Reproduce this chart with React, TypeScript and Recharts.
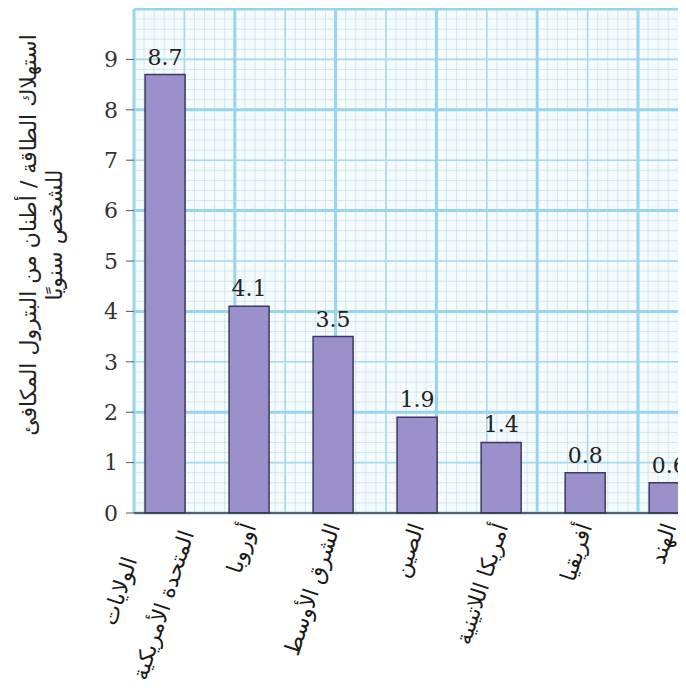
import React from "react";
import { BarChart, Bar, XAxis, YAxis, CartesianGrid, LabelList } from "recharts";

// regions, as printed under the bars (line breaks as in the original)
const regionLines: string[][] = [
  ["الولايات", "المتحدة الأمريكية"],
  ["أوروبا"],
  ["الشرق الأوسط"],
  ["الصين"],
  ["أمريكا اللاتينية"],
  ["أفريقيا"],
  ["الهند"],
];
const consumption = [8.7, 4.1, 3.5, 1.9, 1.4, 0.8, 0.6];
const yTicks = [0, 1, 2, 3, 4, 5, 6, 7, 8, 9];
const yTitle = ["استهلاك الطاقة / أطنان من البترول المكافئ", "للشخص سنويًا"];

const data = consumption.map((value, idx) => ({ idx, value }));

// graph paper: a cell is 0.2 units, bold lines every unit, heavier every 2
const minorY = Array.from({ length: 51 }, (_, i) => i / 5);
const unitY = Array.from({ length: 11 }, (_, i) => i);
const doubleY = [0, 2, 4, 6, 8, 10];

const ARABIC = '"DejaVu Sans", sans-serif';
const SERIF = '"DejaVu Serif", serif';
const LABEL_SIZE = 22;

const canvas = typeof document !== "undefined" ? document.createElement("canvas") : null;
const ctx = canvas ? canvas.getContext("2d") : null;
function textWidth(s: string, font: string) {
  if (!ctx) return s.length * 10;
  ctx.font = font;
  return ctx.measureText(s).width;
}

// vertical lines of the paper, same cell size as the horizontal ones
const paperColumns = (every: number) => (props: any) => {
  const { offset } = props;
  const cell = offset.height / 50;
  const out: number[] = [];
  for (let k = 0; offset.left + k * cell <= offset.left + offset.width + 0.5; k += every) {
    out.push(offset.left + k * cell);
  }
  return out;
};

function RegionTick(props: any) {
  const { x, y, payload } = props;
  const lines = regionLines[payload.value];
  if (!lines) return null;
  const font = `${LABEL_SIZE}px ${ARABIC}`;
  const maxW = Math.max(...lines.map((l) => textWidth(l, font)));
  const lh = 46;
  return (
    <g transform={`translate(${x},${y + 9}) rotate(-72)`}>
      {lines.map((l, i) => (
        <text
          key={i}
          x={lines.length > 1 ? -maxW / 2 : 0}
          y={(i - (lines.length - 1) / 2) * lh}
          dy="0.35em"
          textAnchor={lines.length > 1 ? "middle" : "end"}
          fill="#1a1a1a"
          fontSize={LABEL_SIZE}
          fontFamily={ARABIC}
        >
          {l}
        </text>
      ))}
    </g>
  );
}

function YTitle(props: any) {
  const vb = props.viewBox;
  if (!vb) return null;
  const cx = vb.x - 33;
  const cy = vb.y + vb.height / 2 - 26;
  return (
    <g transform={`translate(${cx},${cy}) rotate(-90)`}>
      {yTitle.map((l, i) => (
        <text
          key={i}
          x={0}
          y={(i - 0.5) * 26}
          dy="0.35em"
          textAnchor="middle"
          fill="#222"
          fontSize={22}
          fontFamily={ARABIC}
        >
          {l}
        </text>
      ))}
    </g>
  );
}

export default function App() {
  return (
    <div style={{ width: 678, height: 680, overflow: "hidden" }}>
      <BarChart
        width={678}
        height={680}
        data={data}
        margin={{ top: 1, right: 0, bottom: 15, left: 66 }}
      >
        <CartesianGrid
          fill="#f5fbfd"
          stroke="#cbe1e7"
          strokeWidth={0.8}
          horizontalValues={minorY}
          verticalCoordinatesGenerator={paperColumns(1)}
        />
        <CartesianGrid
          stroke="#a8daee"
          strokeWidth={1.6}
          horizontalValues={unitY}
          verticalCoordinatesGenerator={paperColumns(5)}
        />
        <CartesianGrid
          stroke="#97d4ee"
          strokeWidth={3}
          horizontalValues={doubleY}
          verticalCoordinatesGenerator={paperColumns(10)}
        />
        <XAxis
          type="number"
          dataKey="idx"
          domain={[-0.37, 6.2]}
          allowDataOverflow
          ticks={[0, 1, 2, 3, 4, 5, 6]}
          interval={0}
          tickLine={false}
          tickSize={0}
          axisLine={{ stroke: "#3a3a48", strokeWidth: 1.5 }}
          height={160}
          tick={<RegionTick />}
        />
        <YAxis
          type="number"
          domain={[0, 10]}
          ticks={yTicks}
          interval={0}
          width={60}
          axisLine={false}
          tickSize={8}
          tickMargin={8}
          tickLine={{ stroke: "#555" }}
          tick={{ fill: "#333", fontSize: 22, fontFamily: SERIF }}
          label={{ content: <YTitle /> }}
        />
        <Bar
          dataKey="value"
          fill="#9c90cb"
          stroke="#3b3866"
          strokeWidth={1.5}
          barSize={40}
          isAnimationActive={false}
        >
          <LabelList
            dataKey="value"
            position="top"
            offset={10}
            fill="#222"
            fontSize={22}
            fontFamily={SERIF}
          />
        </Bar>
      </BarChart>
    </div>
  );
}
